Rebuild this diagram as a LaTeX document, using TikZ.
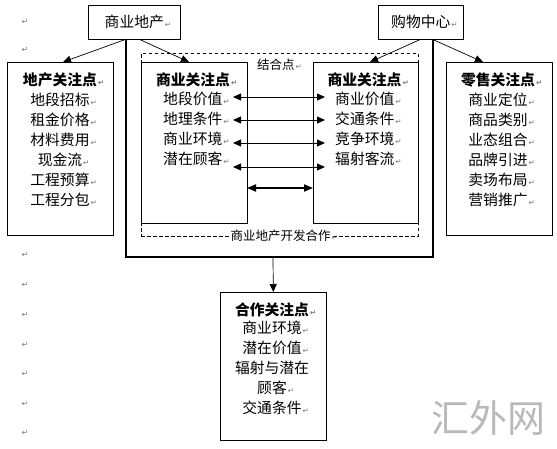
\documentclass[tikz,border=0pt]{standalone}
\usepackage{fontspec}
\newfontfamily\cjk{Noto Sans CJK SC}
\newfontfamily\symf{DejaVu Sans}
\usetikzlibrary{arrows.meta}
\definecolor{markgray}{RGB}{120,120,120}
\definecolor{wmgray}{RGB}{185,185,185}
\newcommand{\pmk}{\rlap{\hspace{1pt}{\symf\fontsize{7.5}{7.5}\selectfont\color{markgray}↵}}}
\newcommand{\firstln}{\rule{0pt}{13.5pt}}
\begin{document}
\begin{tikzpicture}[x=1pt,y=-1pt,
  box/.style={draw, line width=0.6pt, anchor=north west, inner sep=0pt},
  txt/.style={font=\cjk\fontsize{14.8}{20}\selectfont, inner sep=0pt},
  small/.style={font=\cjk\fontsize{12.5}{12.5}\selectfont, inner sep=0pt},
  arr/.style={-{Triangle[length=8pt,width=7pt]}, line width=0.7pt},
  dbl/.style={{Triangle[length=8pt,width=7pt]}-{Triangle[length=8pt,width=7pt]}, line width=0.8pt},
  dblthick/.style={{Triangle[length=9pt,width=7pt]}-{Triangle[length=9pt,width=7pt]}, line width=1.8pt},
  ubar/.style={line width=2pt, line join=miter},
  pmark/.style={font=\symf\fontsize{8}{8}\selectfont, text=markgray, inner sep=0pt}]
\useasboundingbox[fill=white] (0,0) rectangle (557,448);

% paragraph marks in the left margin
\foreach \i/\yy in {1/22,2/50,3/255,4/285,5/315,6/345,7/374,8/404,9/433}
  \node[pmark] (pm\i) at (25,\yy) {↵};

% top boxes
\node[box, txt, minimum width=92pt, minimum height=34pt] (sydc) at (88,5) {商业地产\pmk};
\node[box, txt, minimum width=85pt, minimum height=34pt] (gwzx) at (378,5) {购物中心\pmk};

% dashed combination frame
\node[draw, dashed, dash pattern=on 3.5pt off 2.5pt, line width=0.6pt, anchor=north west,
      minimum width=277pt, minimum height=183pt, inner sep=0pt] (jhk) at (141,53) {};

% boxes
\node[box, minimum width=106pt, minimum height=173pt] (dcgz) at (7,62) {};
\node[box, minimum width=106pt, minimum height=161pt] (sygzL) at (141,62) {};
\node[box, minimum width=105pt, minimum height=161pt] (sygzR) at (313,62) {};
\node[box, minimum width=106pt, minimum height=173pt] (lsgz) at (446,62) {};
\node[box, minimum width=106pt, minimum height=148pt] (hzgz) at (220,292) {};

% box contents
\node[txt, align=center, anchor=north] (dcgzT) at (60,72)
  {\firstln\bfseries 地产关注点\pmk\\ 地段招标\pmk\\ 租金价格\pmk\\ 材料费用\pmk\\ 现金流\pmk\\ 工程预算\pmk\\ 工程分包\pmk};
\node[txt, anchor=base] (sygzLT) at (193,85.5) {\bfseries 商业关注点\pmk};
\node[txt, align=left, anchor=north west] (sygzLI) at (163,91)
  {\firstln 地段价值\pmk\\ 地理条件\pmk\\ 商业环境\pmk\\ 潜在顾客\pmk};
\node[txt, anchor=base] (sygzRT) at (364.5,85.5) {\bfseries 商业关注点\pmk};
\node[txt, align=left, anchor=north west] (sygzRI) at (335,91)
  {\firstln 商业价值\pmk\\ 交通条件\pmk\\ 竞争环境\pmk\\ 辐射客流\pmk};
\node[txt, align=center, anchor=north] (lsgzT) at (498,72)
  {\firstln\bfseries 零售关注点\pmk\\ 商业定位\pmk\\ 商品类别\pmk\\ 业态组合\pmk\\ 品牌引进\pmk\\ 卖场布局\pmk\\ 营销推广\pmk};
\node[txt, align=center, anchor=north] (hzgzT) at (272,302)
  {\firstln\bfseries 合作关注点\pmk\\[-2pt] 商业环境\pmk\\ 潜在价值\pmk\\ 辐射与潜在\\ 顾客\pmk\\ 交通条件\pmk};

% labels of the dashed frame
\node[small, anchor=base west] (jhdl) at (257,69.5) {结合点\pmk};
\node[small, fill=white, inner sep=1.5pt] (kfhz) at (280.5,236) {商业地产开发合作\pmk\hspace{7pt}};

% thick U frame
\coordinate (uL) at (126,257);
\coordinate (uR) at (433,257);
\coordinate (uM) at (273,257);
\draw[ubar] ([xshift=38pt]sydc.south west) -- (uL) -- (uR) -- ([xshift=55pt]gwzx.south west);

% arrows from top boxes
\draw[arr] ([xshift=37pt]sydc.south west) -- ([xshift=56pt]dcgz.north west);
\draw[arr] ([xshift=52pt]sydc.south west) -- ([xshift=48pt]sygzL.north west);
\draw[arr] ([xshift=42pt]gwzx.south west) -- ([xshift=57pt]sygzR.north west);
\draw[arr] ([xshift=55pt]gwzx.south west) -- ([xshift=37pt]lsgz.north west);

% two-way arrows
\foreach \i/\yy in {1/97,2/120,3/143,4/167}{
  \coordinate (l\i) at (233,\yy);
  \coordinate (r\i) at (325,\yy);
  \draw[dbl] (l\i) -- (r\i);
}
\coordinate (l5) at (247,188);
\coordinate (r5) at (313,188);
\draw[dblthick] (l5) -- (r5);

% down arrow
\draw[arr] (uM) -- (hzgz.north);

% watermark
\node[font=\cjk\fontsize{38}{38}\selectfont, text=wmgray, inner sep=0pt] (wm) at (488,418) {汇外网};
\end{tikzpicture}
\end{document}
